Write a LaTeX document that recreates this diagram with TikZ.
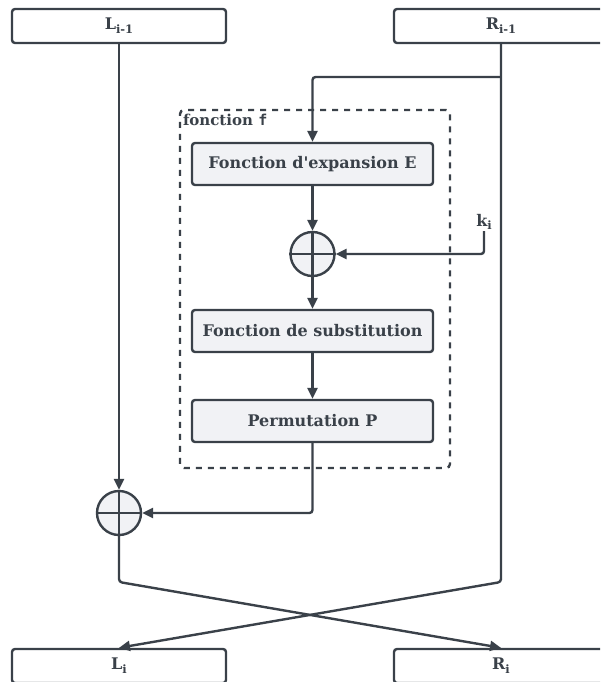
\documentclass[tikz,border=0pt]{standalone}
\usepackage{fontspec}
\setmainfont{DejaVu Serif}
\newfontfamily\codefont{DejaVu Sans Mono}
\usetikzlibrary{arrows.meta}
\definecolor{ink}{HTML}{3A4149}
\definecolor{panel}{HTML}{F1F2F5}
% lowered, smaller index text (kept in the serif face)
\newcommand{\idx}[1]{\raisebox{-0.45ex}{\fontsize{11.5}{13}\selectfont #1}}

\begin{document}
\begin{tikzpicture}[x=1pt,y=-1pt,
  every node/.style={font=\bfseries\fontsize{16}{19}\selectfont, text=ink},
  reg/.style={draw=ink, line width=2.4pt, rounded corners=3pt, fill=white,
    minimum width=214pt, minimum height=34pt, inner sep=0pt},
  stage/.style={draw=ink, line width=2.4pt, rounded corners=3pt, fill=panel,
    minimum width=241pt, minimum height=42pt, inner sep=0pt},
  xorop/.style={circle, draw=ink, line width=2.4pt, fill=panel,
    minimum size=44pt, inner sep=0pt},
  wire/.style={draw=ink, line width=2.4pt, rounded corners=3pt},
  flow/.style={wire, -{Triangle[length=11pt,width=10pt]}},
  region/.style={draw=ink, line width=2.4pt, dash pattern=on 6pt off 6pt,
    rounded corners=4pt, minimum width=270pt, minimum height=358pt, inner sep=0pt},
]
\useasboundingbox (0,0) rectangle (600,682);
\clip (0,0) rectangle (600,682);

% round function frame
\node[region] (fbox) at (315,289) {};
\node[anchor=north west, inner sep=0pt, font=\bfseries\fontsize{15}{17}\selectfont]
  (flabel) at ([xshift=4pt,yshift=-5pt]fbox.north west) {fonction {\codefont f}};

% registers
\node[reg] (Lin)  at (119,26)  {L\idx{i-1}};
\node[reg] (Rin)  at (501,26)  {R\idx{i-1}};
\node[reg] (Lout) at (119,666) {L\idx{i}};
\node[reg] (Rout) at (501,666) {R\idx{i}};

% stages of f
\node[stage] (E) at (312.5,164) {Fonction d\textquotesingle expansion E};
\node[xorop] (x1) at (312.5,254) {};
\node[stage] (S) at (312.5,331) {Fonction de substitution};
\node[stage] (P) at (312.5,421) {Permutation P};
\node[xorop] (x2) at (119,513) {};
\node[anchor=south, inner sep=1pt] (ki) at (484,231) {k\idx{i}};

% crosses inside the xor circles
\draw[ink, line width=2.4pt] (x1.north) -- (x1.south) (x1.west) -- (x1.east);
\draw[ink, line width=2.4pt] (x2.north) -- (x2.south) (x2.west) -- (x2.east);

% bend points
\coordinate (tap)   at (501,77);
\coordinate (rbend) at (501,582);
\coordinate (lbend) at (119,582);

% connectors
\draw[flow] (Lin.south) -- (x2.north);
\draw[flow] (tap) -| (E.north);
\draw[flow] (Rin.south) -- (rbend) -- (Lout.north);
\draw[flow] (x2.south) -- (lbend) -- (Rout.north);
\draw[flow] (E.south) -- (x1.north);
\draw[flow] (ki.south) |- (x1.east);
\draw[flow] (x1.south) -- (S.north);
\draw[flow] (S.south) -- (P.north);
\draw[flow] (P.south) |- (x2.east);
\end{tikzpicture}
\end{document}
